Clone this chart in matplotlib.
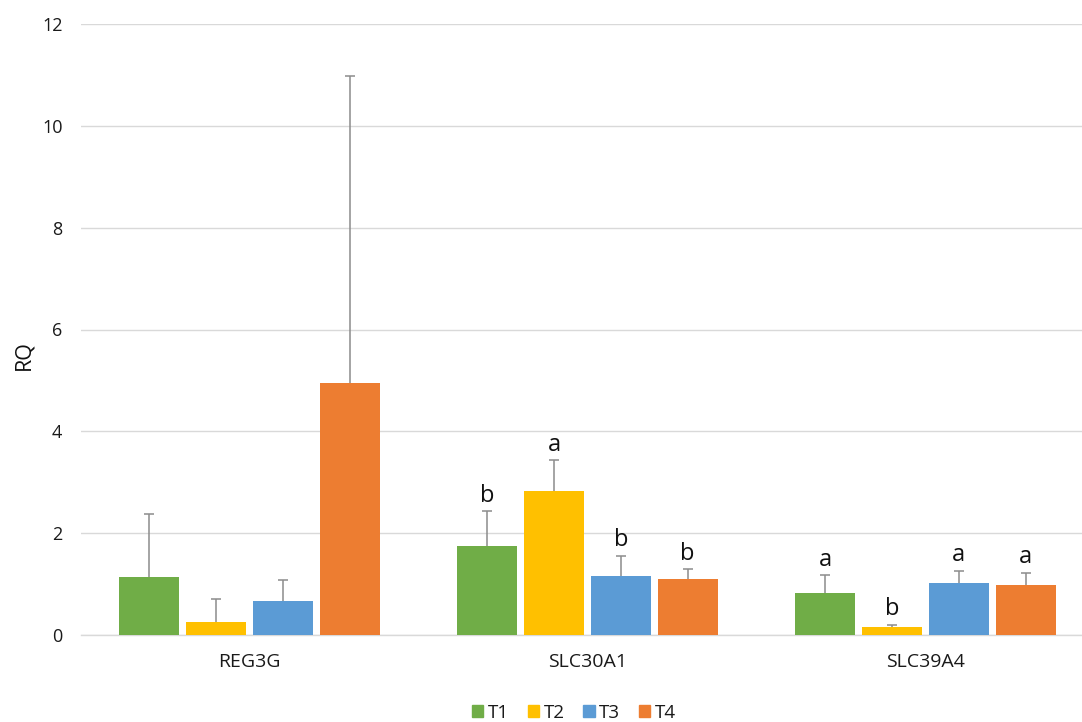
import numpy as np
import matplotlib
matplotlib.use('Agg')
import matplotlib.pyplot as plt
from matplotlib.patches import Patch

plt.rcParams['font.family'] = ['Open Sans', 'DejaVu Sans']

genes = ['REG3G', 'SLC30A1', 'SLC39A4']
groups = ['T1', 'T2', 'T3', 'T4']
colors = ['#70AD47', '#FFC000', '#5B9BD5', '#ED7D31']

# mean RQ per gene, one list per group
t1_mean = [1.13, 1.75, 0.82]
t2_mean = [0.25, 2.83, 0.15]
t3_mean = [0.67, 1.16, 1.02]
t4_mean = [4.94, 1.10, 0.99]

# upper error (SD)
t1_err = [1.24, 0.68, 0.35]
t2_err = [0.46, 0.60, 0.05]
t3_err = [0.41, 0.40, 0.24]
t4_err = [6.04, 0.19, 0.23]

# significance letters
t1_sig = ['', 'b', 'a']
t2_sig = ['', 'a', 'b']
t3_sig = ['', 'b', 'a']
t4_sig = ['', 'b', 'a']

means = [t1_mean, t2_mean, t3_mean, t4_mean]
errs = [t1_err, t2_err, t3_err, t4_err]
sigs = [t1_sig, t2_sig, t3_sig, t4_sig]

fig = plt.figure(figsize = (10.82, 7.22), dpi = 100)
ax = fig.add_axes([80.5 / 1082, 87 / 722, 1014 / 1082, 611 / 722])

x = np.arange(len(genes))
step = 66.7 / 338
width = 60 / 338

for i, grp in enumerate(groups):
    pos = x + (i - 1.5) * step
    m = np.array(means[i])
    e = np.array(errs[i])
    ax.bar(pos, m, width = width, color = colors[i], zorder = 3, label = grp)
    eb = ax.errorbar(pos, m, yerr = [np.zeros_like(e), e], fmt = 'none',
                     ecolor = '#8c8c8c', elinewidth = 1.1, capsize = 3.5, capthick = 1.1, zorder = 4)
    # only keep the upper cap
    eb[1][0].set_visible(False)
    for p, top, s in zip(pos, m + e, sigs[i]):
        if s:
            ax.annotate(s, (p, top), xytext = (0, 7), textcoords = 'offset points',
                        ha = 'center', va = 'baseline', fontsize = 17, color = '#111111')

ax.set_xlim(-0.5, 2.5)
ax.set_ylim(0, 12)
ax.set_yticks(np.arange(0, 13, 2))
ax.set_xticks(x)
ax.set_xticklabels(genes, fontsize = 14, color = '#1a1a1a')
ax.tick_params(axis = 'y', length = 0, pad = 13, labelsize = 13, labelcolor = '#1a1a1a')
ax.tick_params(axis = 'x', length = 0, pad = 13)
ax.yaxis.grid(True, color = '#d9d9d9', linewidth = 1, zorder = 0)
ax.set_axisbelow(True)
for side in ['top', 'right', 'left']:
    ax.spines[side].set_visible(False)
ax.spines['bottom'].set_color('#d9d9d9')
ax.spines['bottom'].set_linewidth(1)

fig.text(24 / 1082, 1 - 355 / 722, 'RQ', rotation = 90, ha = 'center', va = 'center',
         fontsize = 15.5, color = '#111111')

handles = [Patch(color = c, label = g) for c, g in zip(colors, groups)]
fig.legend(handles = handles, loc = 'center', bbox_to_anchor = (574 / 1082, 1 - 713 / 722),
           ncol = 4, frameon = False, fontsize = 13.5, handlelength = 0.6, handleheight = 0.6,
           handletextpad = 0.25, columnspacing = 1.0, labelcolor = '#1a1a1a')

fig.savefig('out.png', dpi = 100)
